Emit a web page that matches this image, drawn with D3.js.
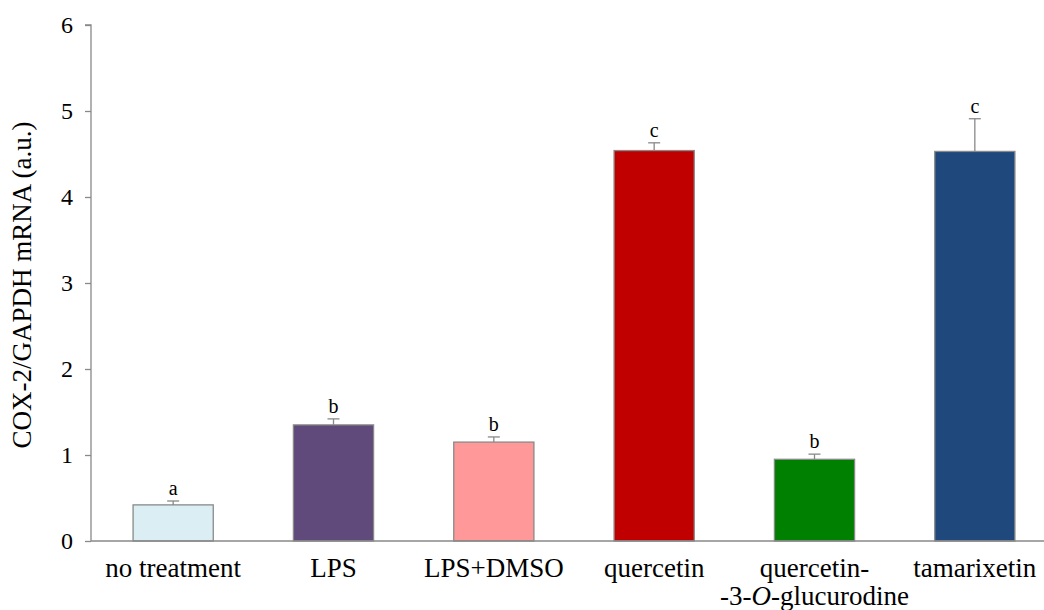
<!DOCTYPE html>
<html><head><meta charset="utf-8">
<script src="https://cdn.jsdelivr.net/npm/d3@7"></script>
<style>body{margin:0;background:#fff}svg{display:block}</style>
</head><body>
<svg id="c" width="1044" height="610"></svg>
<script>
const categories = ["no treatment","LPS","LPS+DMSO","quercetin","quercetin-3-O-glucurodine","tamarixetin"];
const values = [0.42, 1.35, 1.15, 4.54, 0.95, 4.53];
const errors = [0.045, 0.07, 0.06, 0.09, 0.06, 0.38];
const letters = ["a","b","b","c","b","c"];
const colors = ["#dbeef3","#604a7b","#ff9999","#c00000","#008000","#1f497d"];
const yTicks = [0,1,2,3,4,5,6];

(function(){
const svg = d3.select("#c");
const pLeft = 91, pTop = 25, pBottom = 541;
const x = d3.scaleBand().domain(categories).range([93, 1055]).paddingInner(0.5).paddingOuter(0.25);
const y = d3.scaleLinear().domain([0,6]).range([pBottom, pTop]);
const font = "'Liberation Serif','Times New Roman',serif";
const grey = "#898989";

// y axis
const ya = svg.append("g").attr("transform",`translate(${pLeft},0)`).call(d3.axisLeft(y).tickValues(yTicks).tickSize(6).tickPadding(12).tickFormat(d3.format("d")));
ya.select(".domain").attr("stroke",grey).attr("stroke-width",1.3).attr("d",`M-6,${pTop}H0V${pBottom}`);
ya.selectAll(".tick line").attr("stroke",grey).attr("stroke-width",1.3);
ya.selectAll(".tick text").attr("font-family",font).attr("font-size",24).attr("fill","#000");

// bars
svg.append("g").selectAll("rect").data(categories).join("rect")
  .attr("x", d=>x(d)).attr("width", x.bandwidth())
  .attr("y", (d,i)=>y(values[i])).attr("height",(d,i)=>y(0)-y(values[i]))
  .attr("fill",(d,i)=>colors[i]).attr("stroke",grey).attr("stroke-width",1.3);

// error bars
const eb = svg.append("g").attr("stroke",grey).attr("stroke-width",1.3);
categories.forEach((c,i)=>{
  const cx = x(c)+x.bandwidth()/2;
  eb.append("line").attr("x1",cx).attr("x2",cx).attr("y1",y(values[i])).attr("y2",y(values[i]+errors[i]));
  eb.append("line").attr("x1",cx-6).attr("x2",cx+6).attr("y1",y(values[i]+errors[i])).attr("y2",y(values[i]+errors[i]));
});

// letters
svg.append("g").selectAll("text").data(categories).join("text")
  .attr("x", d=>x(d)+x.bandwidth()/2).attr("y",(d,i)=>y(values[i]+errors[i])-6)
  .attr("text-anchor","middle").attr("font-family",font).attr("font-size",20).text((d,i)=>letters[i]);

// x axis line
svg.append("line").attr("x1",pLeft).attr("x2",1044).attr("y1",pBottom).attr("y2",pBottom).attr("stroke",grey).attr("stroke-width",1.3);

// category labels
const xl = svg.append("g").attr("font-family",font).attr("font-size",27).attr("text-anchor","middle");
categories.forEach((c,i)=>{
  const cx = x(c)+x.bandwidth()/2;
  if (c === "quercetin-3-O-glucurodine") {
    xl.append("text").attr("x",cx).attr("y",577).text("quercetin-");
    const t = xl.append("text").attr("x",cx).attr("y",605);
    t.append("tspan").text("-3-");
    t.append("tspan").attr("font-style","italic").text("O");
    t.append("tspan").text("-glucurodine");
  } else {
    xl.append("text").attr("x",cx).attr("y",577).text(c);
  }
});

// y title
svg.append("text").attr("transform","translate(31,285) rotate(-90)").attr("text-anchor","middle")
  .attr("font-family",font).attr("font-size",27).text("COX-2/GAPDH mRNA (a.u.)");
})();
</script>
</body></html>
